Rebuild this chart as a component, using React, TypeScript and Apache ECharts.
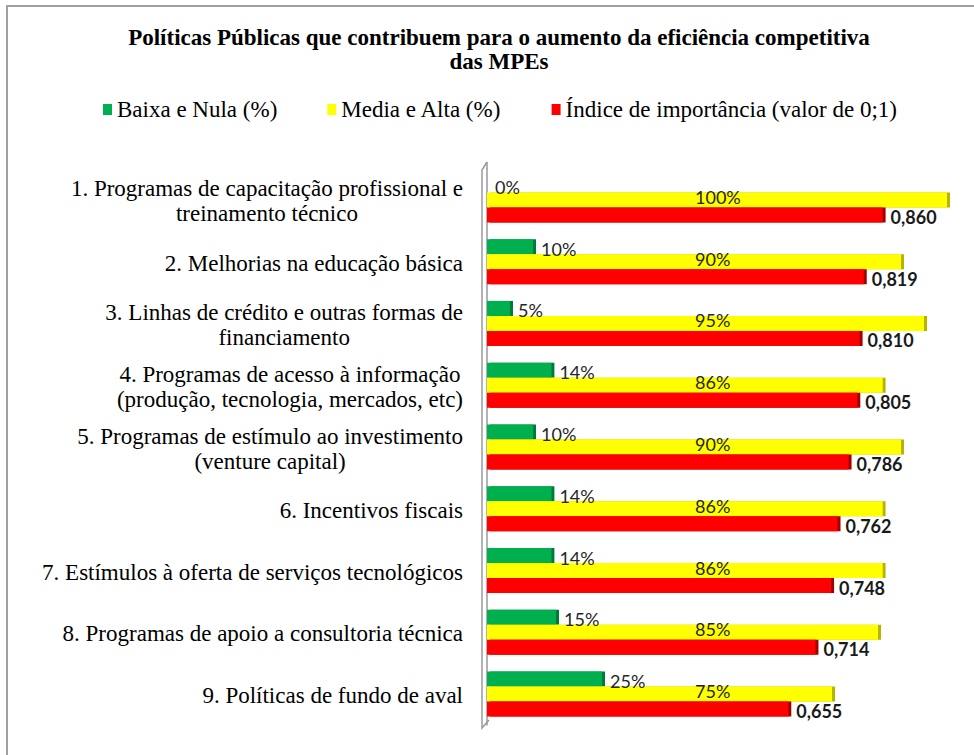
import React, { useEffect, useRef } from "react";
import * as echarts from "echarts";

const categories = [
  "1. Programas de capacitação profissional e\ntreinamento técnico",
  "2. Melhorias na educação básica",
  "3. Linhas de crédito e outras formas de\nfinanciamento",
  "4. Programas de acesso à informação\n(produção, tecnologia, mercados, etc)",
  "5. Programas de estímulo ao investimento\n(venture capital)",
  "6. Incentivos fiscais",
  "7. Estímulos à oferta de serviços tecnológicos",
  "8. Programas de apoio a consultoria técnica",
  "9. Políticas de fundo de aval",
];
const baixaNula = [0, 10, 5, 14, 10, 14, 14, 15, 25];
const mediaAlta = [100, 90, 95, 86, 90, 86, 86, 85, 75];
const indice = [0.86, 0.819, 0.81, 0.805, 0.786, 0.762, 0.748, 0.714, 0.655];
const seriesNames = ["Baixa e Nula (%)", "Media e Alta (%)", "Índice de importância (valor de 0;1)"];
const titleText = "Políticas Públicas que contribuem para o aumento da eficiência competitiva\ndas MPEs";

const GRID_LEFT = 487;
const GRID_TOP = 169;
const GRID_BOTTOM = 30;
const GRID_RIGHT = 27;

export default function App() {
  const ref = useRef<HTMLDivElement>(null);
  useEffect(() => {
    if (!ref.current) return;
    const chart = echarts.init(ref.current, null, { renderer: "svg" });
    const serif = "'Liberation Serif', 'Times New Roman', serif";
    const sans = "Lato";
    const H = 755;
    chart.setOption({
      animation: false,
      backgroundColor: "#ffffff",
      title: {
        text: titleText,
        left: 494,
        top: 20,
        textAlign: "center",
        textStyle: { fontFamily: serif, fontWeight: "bold", fontSize: 23, lineHeight: 24, color: "#000" },
      },
      legend: {
        top: 93,
        left: 98,
        width: 900,
        itemWidth: 9,
        itemHeight: 11,
        itemGap: 50,
        icon: "rect",
        textStyle: { fontFamily: serif, fontSize: 23, color: "#000" },
        data: seriesNames,
      },
      grid: { left: GRID_LEFT, right: GRID_RIGHT, top: GRID_TOP, bottom: GRID_BOTTOM, containLabel: false },
      xAxis: {
        type: "value",
        min: 0,
        max: 100,
        show: false,
      },
      yAxis: {
        type: "category",
        inverse: true,
        data: categories,
        axisTick: { show: false },
        axisLine: { show: true, lineStyle: { color: "#9a9a9a", width: 1.5 } },
        axisLabel: {
          margin: 24,
          formatter: (v: string) => v.split("\n").map((l) => `{c|${l}}`).join("\n"),
          rich: {
            c: { align: "center", fontFamily: serif, fontSize: 23, lineHeight: 25, padding: [3, 0, 0, 0], color: "#000" },
          },
        },
      },
      series: [
        {
          name: seriesNames[0],
          type: "bar",
          data: baixaNula,
          barWidth: 15,
          barGap: "0%",
          itemStyle: { color: "#00b050", shadowColor: "#007a38", shadowOffsetX: 3, shadowBlur: 0 },
          label: {
            show: true,
            position: "right",
            distance: 8,
            offset: [0, 2],
            formatter: "{c}%",
            fontFamily: sans,
            fontSize: 18,
            color: "#262626",
          },
        },
        {
          name: seriesNames[1],
          type: "bar",
          data: mediaAlta,
          barWidth: 15,
          barGap: "0%",
          itemStyle: { color: "#ffff00", shadowColor: "#b5b500", shadowOffsetX: 3, shadowBlur: 0 },
          label: {
            show: true,
            position: "insideLeft",
            distance: 208,
            offset: [0, -3],
            formatter: "{c}%",
            fontFamily: sans,
            fontSize: 18,
            color: "#262626",
          },
        },
        {
          name: seriesNames[2],
          type: "bar",
          data: indice.map((v) => v * 100),
          barWidth: 15,
          barGap: "0%",
          itemStyle: { color: "#ff0000", shadowColor: "#a00000", shadowOffsetX: 3, shadowBlur: 0 },
          label: {
            show: true,
            position: "right",
            distance: 8,
            offset: [0, 2],
            formatter: (p: any) => (p.value / 100).toFixed(3).replace(".", ","),
            fontFamily: sans,
            fontWeight: "bold",
            fontSize: 18,
            color: "#1a1a1a",
          },
        },
      ],
      graphic: [
        {
          type: "rect",
          shape: { x: 7, y: 6, width: 1000, height: 1000 },
          style: { fill: "none", stroke: "#a0a0a0", lineWidth: 2 },
          silent: true,
        },
        {
          type: "polyline",
          shape: {
            points: [
              [GRID_LEFT, GRID_TOP - 7],
              [GRID_LEFT - 5, GRID_TOP + 1],
              [GRID_LEFT - 5, H - GRID_BOTTOM + 3],
              [GRID_LEFT + 2, H - GRID_BOTTOM - 5],
            ],
          },
          style: { fill: "none", stroke: "#9a9a9a", lineWidth: 1.5 },
          silent: true,
        },
        {
          type: "line",
          shape: { x1: GRID_LEFT, y1: GRID_TOP - 7, x2: GRID_LEFT, y2: GRID_TOP },
          style: { stroke: "#9a9a9a", lineWidth: 1.5 },
          silent: true,
        },
      ],
    });
    return () => chart.dispose();
  }, []);
  return (
    <div style={{ position: "absolute", left: 0, top: 0, width: 974, height: 755 }}>
      <div ref={ref} style={{ width: 974, height: 755 }} />
    </div>
  );
}
